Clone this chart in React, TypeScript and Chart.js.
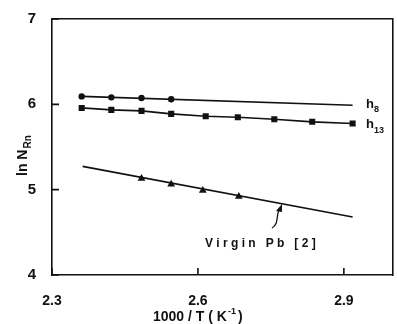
import React, { useEffect, useRef } from "react";
import { Chart, registerables } from "chart.js";
Chart.register(...registerables);

const h8X = [2.361, 2.422, 2.484, 2.545];
const h8Y = [6.093, 6.082, 6.075, 6.06];
const h8LineX = [2.361, 2.918];
const h8LineY = [6.093, 5.99];
const h13X = [2.361, 2.422, 2.484, 2.545, 2.616, 2.682, 2.757, 2.835, 2.918];
const h13Y = [5.958, 5.935, 5.923, 5.888, 5.86, 5.848, 5.825, 5.795, 5.775];
const pbX = [2.484, 2.545, 2.61, 2.684];
const pbY = [5.13, 5.063, 4.99, 4.92];
const pbLineX = [2.363, 2.918];
const pbLineY = [5.273, 4.68];
const xTicks = [2.3, 2.6, 2.9];
const yTicks = [4, 5, 6, 7];

const FONT = "'Liberation Sans', Arial, sans-serif";
const INK = "#111111";

const zip = (xs: number[], ys: number[]) => xs.map((x, i) => ({ x, y: ys[i] }));

const textPlugin = {
  id: "textPlugin",
  afterDraw(chart: any) {
    const ctx = chart.ctx;
    const xs = chart.scales.x;
    const ys = chart.scales.y;
    const L = xs.getPixelForValue(2.3);
    const B = ys.getPixelForValue(4);
    ctx.save();
    ctx.fillStyle = INK;
    ctx.strokeStyle = INK;
    ctx.lineWidth = 1.6;
    ctx.beginPath();
    for (const t of xTicks) {
      const px = xs.getPixelForValue(t);
      ctx.moveTo(px, B);
      ctx.lineTo(px, B - 7);
    }
    for (const t of yTicks) {
      const py = ys.getPixelForValue(t);
      ctx.moveTo(L, py);
      ctx.lineTo(L + 7, py);
    }
    ctx.stroke();

    ctx.textBaseline = "alphabetic";
    ctx.textAlign = "left";
    ctx.font = `bold 13px ${FONT}`;
    ctx.fillText("h", 366, 108);
    ctx.fillText("h", 366, 128);
    ctx.font = `bold 9px ${FONT}`;
    ctx.fillText("8", 374, 112);
    ctx.fillText("13", 374, 133);

    ctx.font = `bold 12px ${FONT}`;
    ctx.fillText("V i r g i n   P b   [ 2 ]", 205, 247);

    ctx.lineWidth = 1.3;
    ctx.beginPath();
    ctx.moveTo(272, 228);
    ctx.bezierCurveTo(279, 224, 276, 216, 279, 210);
    ctx.stroke();
    ctx.beginPath();
    ctx.moveTo(282, 204);
    ctx.lineTo(276, 211);
    ctx.lineTo(282, 212);
    ctx.closePath();
    ctx.fill();

    ctx.font = `bold 14px ${FONT}`;
    let x = 153;
    const y = 321;
    const p1 = "1000 / T ( K";
    ctx.fillText(p1, x, y);
    x += ctx.measureText(p1).width + 1;
    ctx.font = `bold 9px ${FONT}`;
    ctx.fillText("-1", x, y - 7);
    x += ctx.measureText("-1").width + 2;
    ctx.font = `bold 14px ${FONT}`;
    ctx.fillText(")", x, y);

    ctx.translate(27, 176);
    ctx.rotate(-Math.PI / 2);
    ctx.font = `bold 14px ${FONT}`;
    ctx.fillText("ln N", 0, 0);
    const w = ctx.measureText("ln N").width;
    ctx.font = `bold 10px ${FONT}`;
    ctx.fillText("Rn", w + 1, 4);
    ctx.restore();
  },
};

const borderOpts = { display: true, color: INK, width: 1.6 };

export default function App() {
  const ref = useRef<HTMLCanvasElement>(null);
  useEffect(() => {
    document.body.style.margin = "0";
    const chart = new Chart(ref.current!, {
      type: "scatter",
      data: {
        datasets: [
          { data: zip(h8LineX, h8LineY), showLine: true, borderColor: INK, borderWidth: 1.6, pointRadius: 0 },
          { data: zip(h8X, h8Y), showLine: false, pointStyle: "circle", pointRadius: 3.2, backgroundColor: INK, borderColor: INK, borderWidth: 0 },
          { data: zip(h13X, h13Y), showLine: true, borderColor: INK, borderWidth: 1.6, pointStyle: "rect", pointRadius: 4.3, backgroundColor: INK, pointBorderWidth: 0 },
          { data: zip(pbLineX, pbLineY), showLine: true, borderColor: INK, borderWidth: 1.6, pointRadius: 0 },
          { data: zip(pbX, pbY), showLine: false, pointStyle: "triangle", pointRadius: 4.5, backgroundColor: INK, borderColor: INK, borderWidth: 0 },
        ],
      },
      options: {
        animation: false,
        responsive: false,
        layout: { padding: { top: 19, right: 1, left: 0, bottom: 0 } },
        plugins: { legend: { display: false }, tooltip: { enabled: false } },
        scales: {
          x: {
            type: "linear",
            position: "bottom",
            min: 2.3,
            max: 3.0,
            afterBuildTicks: (s: any) => { s.ticks = xTicks.map((v) => ({ value: v })); },
            afterFit: (s: any) => { s.height = 49; s.paddingLeft = 0; s.paddingRight = 0; },
            grid: { display: false },
            border: borderOpts,
            ticks: {
              color: INK,
              padding: 10,
              font: { family: FONT, size: 14, weight: "bold" },
              callback: (v: any) => Number(v).toFixed(1),
            },
          },
          x2: {
            type: "linear",
            position: "top",
            min: 2.3,
            max: 3.0,
            afterFit: (s: any) => { s.height = 0; s.paddingLeft = 0; s.paddingRight = 0; },
            grid: { display: false },
            border: borderOpts,
            ticks: { display: false },
          },
          y: {
            type: "linear",
            position: "left",
            min: 4,
            max: 7,
            afterBuildTicks: (s: any) => { s.ticks = yTicks.map((v) => ({ value: v })); },
            afterFit: (s: any) => { s.width = 52; s.paddingTop = 0; s.paddingBottom = 0; },
            grid: { display: false },
            border: borderOpts,
            ticks: {
              color: INK,
              padding: 8,
              font: { family: FONT, size: 15, weight: "bold" },
              callback: (v: any) => String(v),
            },
          },
          y2: {
            type: "linear",
            position: "right",
            min: 4,
            max: 7,
            afterFit: (s: any) => { s.width = 0; s.paddingTop = 0; s.paddingBottom = 0; },
            grid: { display: false },
            border: borderOpts,
            ticks: { display: false },
          },
        },
      },
      plugins: [textPlugin],
    } as any);
    return () => chart.destroy();
  }, []);
  return (
    <div style={{ width: 397, height: 324 }}>
      <canvas ref={ref} width={397} height={324} style={{ display: "block" }} />
    </div>
  );
}
